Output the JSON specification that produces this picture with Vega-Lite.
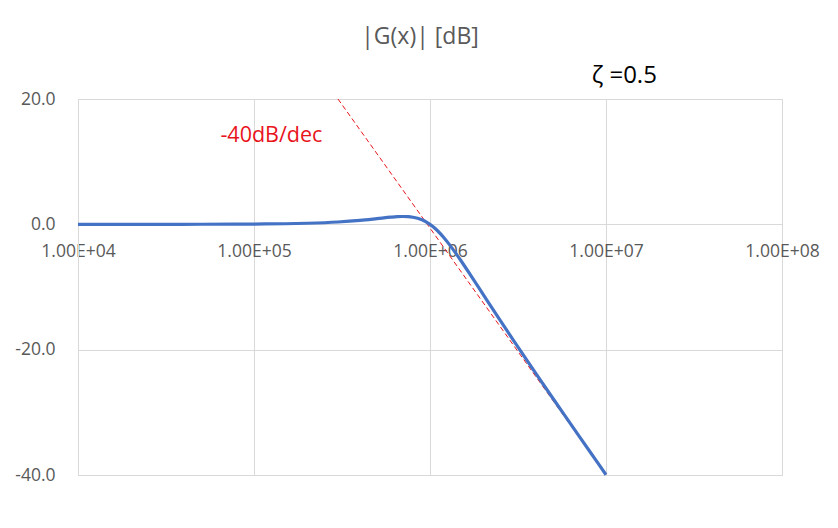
{
  "$schema": "https://vega.github.io/schema/vega-lite/v6.json",
  "width": 704,
  "height": 376,
  "autosize": "none",
  "padding": {"left": 78, "top": 99, "right": 56, "bottom": 53},
  "background": "white",
  "config": {
    "font": "Open Sans",
    "view": {"stroke": "#D9D9D9", "strokeWidth": 1}
  },
  "title": {
    "text": "|G(x)| [dB]",
    "fontSize": 23,
    "fontWeight": "normal",
    "font": "Open Sans",
    "color": "#595959",
    "anchor": "middle",
    "dx": -10,
    "offset": 15
  },
  "datasets": {
    "curve": [
      {"x": 10000, "db": 0.0004},
      {"x": 30000, "db": 0.0039},
      {"x": 50000, "db": 0.0108},
      {"x": 100000, "db": 0.0432},
      {"x": 150000, "db": 0.0966},
      {"x": 200000, "db": 0.170},
      {"x": 300000, "db": 0.371},
      {"x": 400000, "db": 0.627},
      {"x": 500000, "db": 0.902},
      {"x": 600000, "db": 1.137},
      {"x": 650000, "db": 1.215},
      {"x": 700000, "db": 1.249},
      {"x": 750000, "db": 1.227},
      {"x": 800000, "db": 1.137},
      {"x": 850000, "db": 0.972},
      {"x": 900000, "db": 0.726},
      {"x": 950000, "db": 0.400},
      {"x": 1000000, "db": 0.0},
      {"x": 1050000, "db": -0.465},
      {"x": 1100000, "db": -0.983},
      {"x": 1200000, "db": -2.131},
      {"x": 1300000, "db": -3.357},
      {"x": 1400000, "db": -4.596},
      {"x": 1500000, "db": -5.812},
      {"x": 1700000, "db": -8.104},
      {"x": 2000000, "db": -11.139},
      {"x": 2500000, "db": -15.291},
      {"x": 3000000, "db": -18.633},
      {"x": 4000000, "db": -23.820},
      {"x": 5000000, "db": -27.789},
      {"x": 6000000, "db": -31.007},
      {"x": 7000000, "db": -33.716},
      {"x": 8000000, "db": -36.056},
      {"x": 9000000, "db": -38.117},
      {"x": 10000000, "db": -39.957}
    ],
    "asym": [
      {"x": 300000, "db": 20},
      {"x": 10000000, "db": -40}
    ],
    "labels": [
      {"x": 12700000, "db": 23.7, "label": "ζ =0.5", "kind": "zeta"},
      {"x": 125600, "db": 14.1, "label": "-40dB/dec", "kind": "slope"}
    ]
  },
  "layer": [
    {
      "data": {"name": "asym"},
      "mark": {"type": "line", "color": "#E8141C", "strokeWidth": 1, "strokeDash": [5, 3]},
      "encoding": {
        "x": {
          "field": "x", "type": "quantitative",
          "scale": {"type": "log", "domain": [10000, 100000000], "nice": false},
          "axis": {
            "values": [10000, 100000, 1000000, 10000000, 100000000],
            "labelExpr": "'1.00E+0' + round(log(datum.value)/LN10)",
            "title": null,
            "offset": -251,
            "ticks": false,
            "domainColor": "#D9D9D9",
            "gridColor": "#D9D9D9",
            "labelFontSize": 17.5,
            "labelColor": "#595959",
            "labelPadding": 18,
            "labelFlush": false,
            "labelOverlap": false,
            "labelBound": false,
            "labelFont": "Open Sans"
          }
        },
        "y": {
          "field": "db", "type": "quantitative",
          "scale": {"domain": [-40, 20], "nice": false, "zero": false},
          "axis": {
            "values": [-40, -20, 0, 20],
            "labelExpr": "(datum.value < 0 ? '-' : '') + format(abs(datum.value), '.1f')",
            "title": null,
            "ticks": false,
            "domainColor": "#D9D9D9",
            "gridColor": "#D9D9D9",
            "labelFontSize": 17.5,
            "labelColor": "#595959",
            "labelPadding": 23,
            "labelFlush": false,
            "labelFont": "Open Sans"
          }
        }
      }
    },
    {
      "data": {"name": "curve"},
      "mark": {"type": "line", "color": "#4472C4", "strokeWidth": 3.2, "interpolate": "monotone"},
      "encoding": {
        "x": {"field": "x", "type": "quantitative"},
        "y": {"field": "db", "type": "quantitative"}
      }
    },
    {
      "data": {"name": "labels"},
      "transform": [{"filter": "datum.kind == 'zeta'"}],
      "mark": {"type": "text", "fontSize": 24, "font": "Open Sans", "color": "#000000", "align": "center", "baseline": "middle", "clip": false},
      "encoding": {
        "x": {"field": "x", "type": "quantitative"},
        "y": {"field": "db", "type": "quantitative"},
        "text": {"field": "label"}
      }
    },
    {
      "data": {"name": "labels"},
      "transform": [{"filter": "datum.kind == 'slope'"}],
      "mark": {"type": "text", "fontSize": 21.5, "font": "Open Sans", "color": "#E8141C", "align": "center", "baseline": "middle"},
      "encoding": {
        "x": {"field": "x", "type": "quantitative"},
        "y": {"field": "db", "type": "quantitative"},
        "text": {"field": "label"}
      }
    }
  ]
}
